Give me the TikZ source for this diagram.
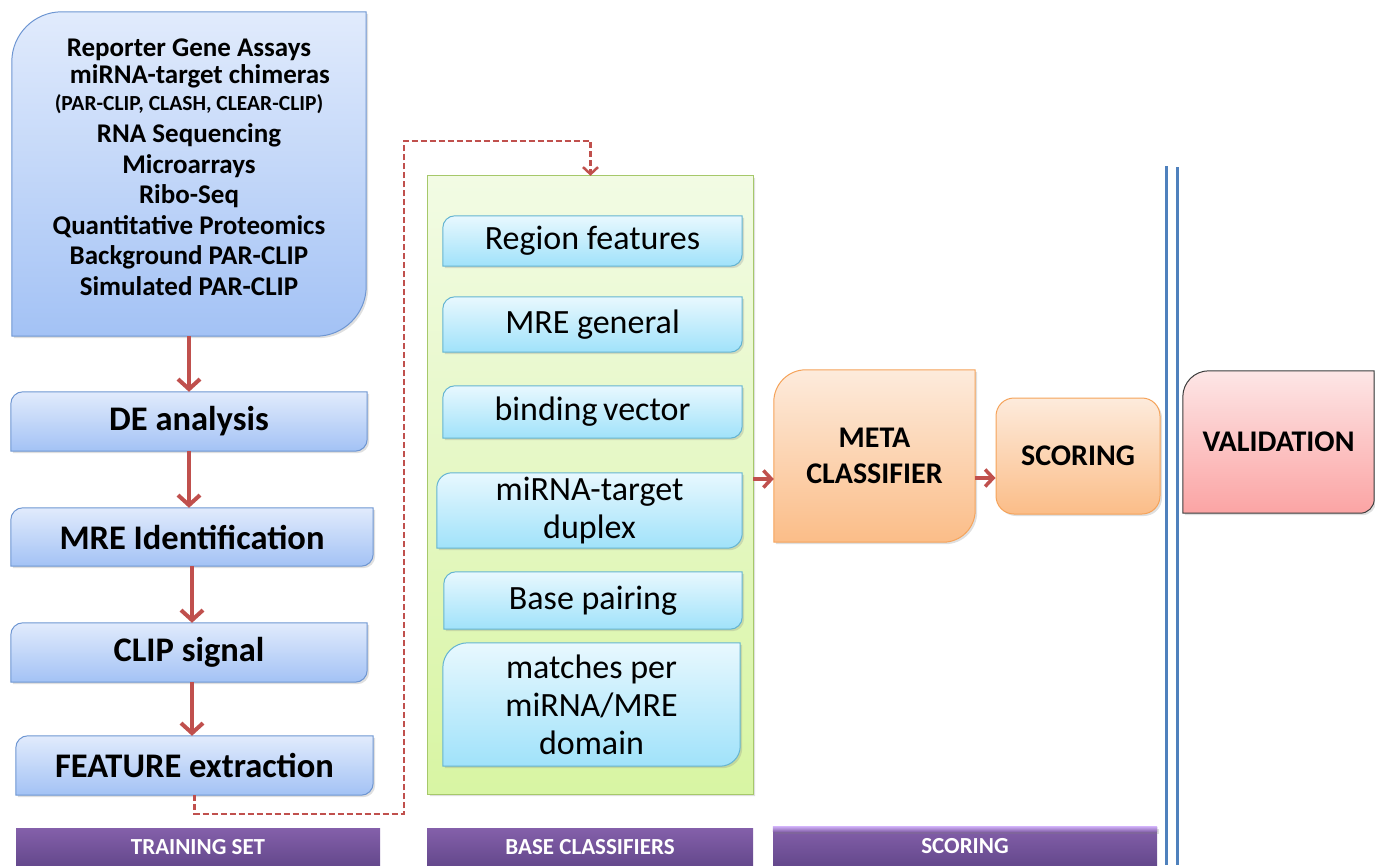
\documentclass[tikz,border=0pt]{standalone}
\usepackage{fontspec}
\setmainfont{Carlito}
\usetikzlibrary{arrows.meta,backgrounds,shadows,calc}

\definecolor{blueTop}{RGB}{225,235,252}
\definecolor{blueBot}{RGB}{163,194,245}
\definecolor{blueEdge}{RGB}{110,150,210}
\definecolor{cyanTop}{RGB}{232,248,254}
\definecolor{cyanBot}{RGB}{160,226,250}
\definecolor{cyanEdge}{RGB}{100,180,210}
\definecolor{greenTop}{RGB}{242,251,228}
\definecolor{greenBot}{RGB}{216,245,163}
\definecolor{greenEdge}{RGB}{166,200,106}
\definecolor{orangeTop}{RGB}{253,235,220}
\definecolor{orangeBot}{RGB}{251,189,136}
\definecolor{orangeEdge}{RGB}{245,163,90}
\definecolor{pinkTop}{RGB}{253,230,230}
\definecolor{pinkBot}{RGB}{251,164,164}
\definecolor{pinkEdge}{RGB}{60,60,60}
\definecolor{barTop}{RGB}{132,96,170}
\definecolor{barBot}{RGB}{100,72,140}
\definecolor{barHi}{RGB}{200,168,240}
\definecolor{arrowRed}{RGB}{192,80,77}
\definecolor{railBlue}{RGB}{79,129,189}

% outline of a node with a rounded top-left and bottom-right corner
% #1 node, #2 top-left radius, #3 bottom-right radius, #4 path style
\newcommand\cutbox[4]{%
  \path[#4] let \p1=(#1.north west), \p2=(#1.south east) in
    (\x1,\y2) -- (\x1,{\y1-#2pt})
    .. controls (\x1,{\y1-0.448*#2pt}) and ({\x1+0.448*#2pt},\y1) .. ({\x1+#2pt},\y1)
    -- (\x2,\y1) -- (\x2,{\y2+#3pt})
    .. controls (\x2,{\y2+0.448*#3pt}) and ({\x2-0.448*#3pt},\y2) .. ({\x2-#3pt},\y2)
    -- cycle;}

\tikzset{
  box/.style 2 args={minimum width=#1pt, minimum height=#2pt, inner sep=0pt, align=center},
  shade/.style={drop shadow={shadow xshift=2pt, shadow yshift=-2pt, opacity=.25}},
  blueshape/.style={shade, top color=blueTop, bottom color=blueBot, draw=blueEdge, line width=1pt},
  cyanshape/.style={shade, top color=cyanTop, bottom color=cyanBot, draw=cyanEdge, line width=1pt},
  greenshape/.style={shade, top color=greenTop, bottom color=greenBot, draw=greenEdge, line width=1pt},
  orangeshape/.style={shade, top color=orangeTop, bottom color=orangeBot, draw=orangeEdge, line width=1pt},
  pinkshape/.style={shade, top color=pinkTop, bottom color=pinkBot, draw=pinkEdge, line width=1pt},
  stagefont/.style={font=\fontsize{34.5}{40}\selectfont\bfseries},
  featfont/.style={font=\fontsize{34}{38}\selectfont},
  capfont/.style={font=\fontsize{30}{36}\selectfont\bfseries},
  barfont/.style={font=\fontsize{23}{27}\selectfont\bfseries, text=white},
  barnode/.style={inner sep=0pt, top color=barTop, bottom color=barBot, barfont},
  arr/.style={draw=arrowRed, line width=4pt, -{Straight Barb[length=10pt,width=22pt]}},
  harr/.style={draw=arrowRed, line width=3.5pt, -{Straight Barb[length=8pt,width=17pt]}},
  dasharr/.style={draw=arrowRed, line width=2.5pt, dash pattern=on 6pt off 3pt,
    -{Straight Barb[length=7pt,width=15pt]}},
  rail/.style={draw=railBlue, line width=3.5pt},
}

\begin{document}
\begin{tikzpicture}[x=1pt, y=-1pt]
\useasboundingbox (0,0) rectangle (1375,865);

% ---- training set column ----
\node[box={354}{324}] (data) at (189,174) {};
\node[inner sep=0pt, align=center, anchor=north, font=\fontsize{27}{30.5}\selectfont\bfseries]
  (dataText) at (189,39)
  {Reporter Gene Assays\\[-3.5pt]
   \hspace*{22pt}miRNA-target chimeras\\[-3.5pt]
   {\fontsize{21.5}{30.5}\selectfont (PAR-CLIP, CLASH, CLEAR-CLIP)}\\[1.5pt]
   RNA Sequencing\\
   Microarrays\\
   Ribo-Seq\\
   Quantitative Proteomics\\
   Background PAR-CLIP\\
   Simulated PAR-CLIP};

\node[box={356}{59}, stagefont] (de)   at (189,421.5) {DE analysis};
\node[box={362}{58}, stagefont] (mre)  at (192,537)   {MRE Identification};
\node[box={356}{59}, stagefont] (clip) at (189,652.5) {CLIP signal};
\node[box={357}{59}, stagefont] (feat) at (194.5,765.5) {FEATURE extraction};

% ---- base classifiers column ----
\node[box={325}{618}] (base) at (590.5,485) {};
\node[box={299}{50}, featfont]  (f1) at (592.5,241)   {Region features};
\node[box={299}{55}, featfont]  (f2) at (592.5,324.5) {MRE general};
\node[box={299}{52}, featfont]  (f3) at (592.5,412)   {binding\,vector};
\node[box={305}{75}, featfont]  (f4) at (589.5,510.5) {miRNA-target\\duplex};
\node[box={298}{57}, featfont]  (f5) at (593,600.5)   {Base pairing};
\node[box={297}{123}, featfont] (f6) at (591.5,704.5) {matches per\\miRNA/MRE\\domain};

% ---- meta classifier, scoring, validation ----
\node[box={201}{172}, capfont] (meta) at (874.5,456) {META\\CLASSIFIER};
\node[box={164}{116}, capfont, rounded corners=18pt, orangeshape] (score) at (1078,456) {SCORING};
\node[box={191}{142}, capfont] (valid) at (1278.5,442) {VALIDATION};

\begin{scope}[on background layer]
  \cutbox{data}{50}{50}{blueshape}
  \cutbox{de}{12}{12}{blueshape}
  \cutbox{mre}{12}{12}{blueshape}
  \cutbox{clip}{12}{12}{blueshape}
  \cutbox{feat}{12}{12}{blueshape}
  \cutbox{base}{0}{0}{greenshape}
  \cutbox{f1}{12}{12}{cyanshape}
  \cutbox{f2}{12}{12}{cyanshape}
  \cutbox{f3}{12}{12}{cyanshape}
  \cutbox{f4}{15}{15}{cyanshape}
  \cutbox{f5}{12}{12}{cyanshape}
  \cutbox{f6}{25}{20}{cyanshape}
  \cutbox{meta}{32}{32}{orangeshape}
  \cutbox{valid}{26}{14}{pinkshape}
\end{scope}

% ---- separator rails ----
\draw[rail] (1166.5,166) -- (1166.5,865);
\draw[rail] (1177.5,167) -- (1177.5,865);

% ---- section bars ----
\node[barnode, minimum width=364pt, minimum height=38pt] (trainBar) at (198,847) {TRAINING SET};
\node[barnode, minimum width=326pt, minimum height=38pt] (baseBar)  at (590,847) {BASE CLASSIFIERS};
\node[barnode, minimum width=384pt, minimum height=39pt] (scoreBar) at (965,846.5) {};
\shade[top color=barHi, bottom color=barTop] (scoreBar.north west) rectangle ([yshift=-5pt]scoreBar.north east);
\node[barfont, inner sep=0pt] (scoreBarText) at (scoreBar.center) {SCORING};

% ---- flow ----
\draw[arr] (data.south) -- (de.north);
\draw[arr] (de.south) -- (de.south |- mre.north);
\draw[arr] (mre.south) -- (mre.south |- clip.north);
\draw[arr] (mre.south |- clip.south) -- (mre.south |- feat.north);

\coordinate (dashLow) at (404,814);
\coordinate (dashTop) at (404,141);
\draw[dasharr] (feat.south) |- (dashLow) -- (dashTop) -| (base.north);

\coordinate (metaIn) at ([yshift=-23pt]meta.west);
\coordinate (scoreIn) at ([yshift=-22pt]score.west);
\draw[harr] (base.east |- metaIn) -- (metaIn);
\draw[harr] (meta.east |- scoreIn) -- (scoreIn);
\end{tikzpicture}
\end{document}
